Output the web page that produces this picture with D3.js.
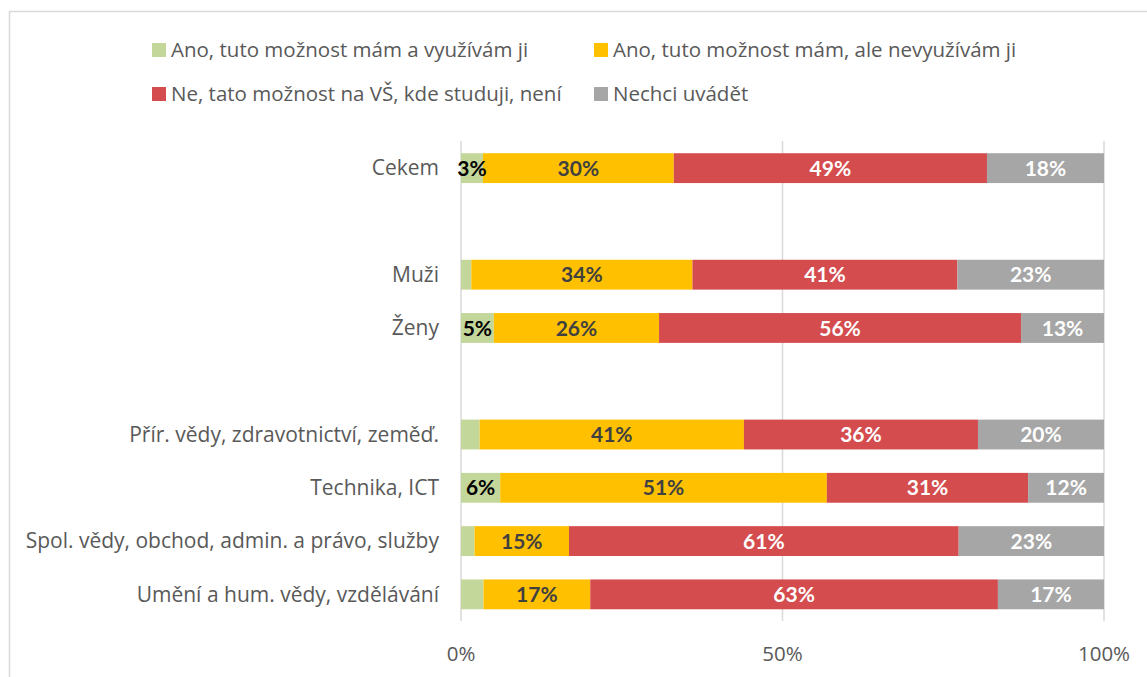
<!DOCTYPE html>
<html>
<head>
<meta charset="utf-8">
<script src="https://cdn.jsdelivr.net/npm/d3@7"></script>
<style>
	body{margin:0;background:#fff;}
	svg{display:block;font-family:"Open Sans",Lato,sans-serif;}
</style>
</head>
<body>
<div id="chart"></div>
<script>
const categories = ["Cekem", " ", "Muži", "Ženy", "  ", "Přír. vědy, zdravotnictví, zeměď.", "Technika, ICT", "Spol. vědy, obchod, admin. a právo, služby", "Umění a hum. vědy, vzdělávání"];
const seriesNames = ["Ano, tuto možnost mám a využívám ji", "Ano, tuto možnost mám, ale nevyužívám ji", "Ne, tato možnost na VŠ, kde studuji, není", "Nechci uvádět"];
const anoVyuzivam = [3.4, 0, 1.6, 5.1, 0, 2.9, 6.1, 2.1, 3.5];
const anoNevyuzivam = [29.7, 0, 34.4, 25.7, 0, 41.1, 50.8, 14.7, 16.6];
const neNeni = [48.7, 0, 41.2, 56.3, 0, 36.4, 31.3, 60.6, 63.4];
const nechci = [18.2, 0, 22.8, 12.9, 0, 19.6, 11.8, 22.6, 16.5];
// labels of the first series that are shown in the original
const greenLabelShown = [true, false, false, true, false, false, true, false, false];
const xTicks = [0, 50, 100];

const colors = ["#c4d79b", "#ffc000", "#d44c4e", "#a6a6a6"];
const labelColors = ["#000000", "#404040", "#ffffff", "#ffffff"];

const W = 1147, H = 677;
const svg = d3.select("#chart").append("svg").attr("width", W).attr("height", H);

svg.append("rect")
	.attr("x", 9.5).attr("y", 11.5)
	.attr("width", W + 10).attr("height", H + 10)
	.style("fill", "none").style("stroke", "#d9d9d9").style("stroke-width", 1.5);

const X = d3.scaleLinear().domain([0, 100]).range([461, 1104]);
const Y = d3.scaleBand().domain(categories).range([141.5, 621]).paddingInner(0.44).paddingOuter(0.22);

const rows = categories.map((c, i) => ({cat: c, s0: anoVyuzivam[i], s1: anoNevyuzivam[i], s2: neNeni[i], s3: nechci[i], show: greenLabelShown[i]}));
const stack = d3.stack().keys(["s0", "s1", "s2", "s3"])(rows);

// grid
svg.append("g").selectAll("line").data(xTicks).enter().append("line")
	.attr("x1", d => X(d)).attr("x2", d => X(d))
	.attr("y1", 141).attr("y2", 621)
	.style("stroke", "#d9d9d9").style("stroke-width", 1.5);

// x labels
svg.append("g").selectAll("text").data(xTicks).enter().append("text")
	.attr("x", d => X(d)).attr("y", 661)
	.text(d => d + "%")
	.style("text-anchor", "middle").style("font-size", "20.5px").style("fill", "#595959");

// category labels
svg.append("g").selectAll("text").data(categories).enter().append("text")
	.attr("x", 439).attr("y", d => Y(d) + Y.bandwidth() / 2)
	.attr("dy", "0.35em")
	.text(d => d.trim())
	.style("text-anchor", "end").style("font-size", "21px").style("fill", "#595959");

// bars
const layers = svg.append("g").selectAll("g").data(stack).enter().append("g")
	.style("fill", (d, i) => colors[i]);

layers.selectAll("rect").data(d => d.filter(p => p[1] > p[0])).enter().append("rect")
	.attr("x", d => X(d[0]))
	.attr("y", d => Y(d.data.cat))
	.attr("width", d => X(d[1]) - X(d[0]))
	.attr("height", Y.bandwidth());

// data labels
stack.forEach((layer, i) => {
	svg.append("g").selectAll("text")
		.data(layer.filter(p => p[1] > p[0] && (i > 0 || p.data.show)))
		.enter().append("text")
		.attr("x", d => (X(d[0]) + X(d[1])) / 2)
		.attr("y", d => Y(d.data.cat) + Y.bandwidth() / 2)
		.attr("dy", "0.36em")
		.text(d => Math.round(d[1] - d[0]) + "%")
		.style("text-anchor", "middle").style("font-size", "21px").style("font-weight", "bold")
		.style("font-family", "Lato, sans-serif")
		.style("fill", labelColors[i]);
});

// legend
const legendPos = [[152, 50], [594, 50], [152, 94], [594, 94]];
const legend = svg.append("g").selectAll("g").data(seriesNames).enter().append("g")
	.attr("transform", (d, i) => "translate(" + legendPos[i][0] + "," + legendPos[i][1] + ")");
legend.append("rect").attr("x", 0).attr("y", -7).attr("width", 14).attr("height", 14)
	.style("fill", (d, i) => colors[i]);
legend.append("text").attr("x", 19).attr("dy", "0.35em").text(d => d)
	.style("font-size", "20.5px").style("fill", "#595959");
</script>
</body>
</html>
